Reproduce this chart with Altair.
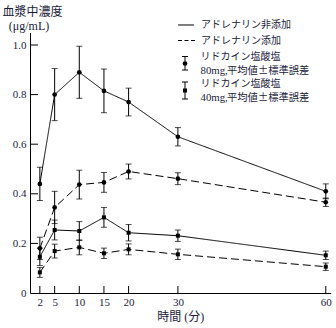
import altair as alt
import pandas as pd

# ---- data ----
times = [2, 5, 10, 15, 20, 30, 60]
m80_none = [0.44, 0.80, 0.89, 0.815, 0.77, 0.63, 0.41]
se80_none = [0.067, 0.105, 0.105, 0.088, 0.056, 0.037, 0.03]
m80_adr = [0.18, 0.345, 0.437, 0.446, 0.49, 0.461, 0.366]
se80_adr = [0.045, 0.065, 0.058, 0.04, 0.03, 0.024, 0.017]
m40_none = [0.146, 0.254, 0.25, 0.305, 0.243, 0.231, 0.152]
se40_none = [0.035, 0.04, 0.038, 0.04, 0.033, 0.023, 0.017]
m40_adr = [0.083, 0.169, 0.184, 0.16, 0.176, 0.156, 0.106]
se40_adr = [0.02, 0.028, 0.03, 0.021, 0.022, 0.021, 0.015]

x_ticks = [2, 5, 10, 15, 20, 30, 60]
y_ticks = [0, 0.2, 0.4, 0.6, 0.8, 1.0]

y_title = ["血漿中濃度", "(μg/mL)"]
x_title = "時間 (分)"
leg_line_labels = ["アドレナリン非添加", "アドレナリン添加"]
leg_drug = "リドカイン塩酸塩"
leg_doses = ["80mg,", "40mg,"]
leg_stat = "平均値±標準誤差"

rows = []
for dose, adr, ms, ses in [("80", "none", m80_none, se80_none),
                           ("80", "adr", m80_adr, se80_adr),
                           ("40", "none", m40_none, se40_none),
                           ("40", "adr", m40_adr, se40_adr)]:
    for t, m, s in zip(times, ms, ses):
        rows.append(dict(t=t, v=m, lo=m - s, hi=m + s, dose=dose, adr=adr,
                         series=dose + adr))
df = pd.DataFrame(rows)

FONT = "Liberation Serif, Noto Sans CJK JP"
CJK = "Noto Sans CJK JP"
TXT = "#1c1c3c"
W, H = 300.7, 260.4

xs = alt.Scale(domain=[0, 61], nice=False, zero=False)
ys = alt.Scale(domain=[0, 1.05], nice=False)

X = alt.X("t:Q", scale=xs, axis=alt.Axis(values=x_ticks, ticks=False, grid=False,
          labelFontSize=11, labelFont=FONT, labelColor=TXT, labelPadding=3,
          domainColor="black", title=x_title, titleFont=FONT, titleFontSize=12,
          titleFontWeight="normal", titleColor=TXT, titlePadding=4))
Y = alt.Y("v:Q", scale=ys, axis=alt.Axis(values=y_ticks, ticks=False, grid=False,
          labelFontSize=11, labelFont=FONT, labelColor=TXT, labelPadding=4,
          labelExpr="datum.value == 0 ? '0' : format(datum.value, '.1f')",
          domainColor="black", title=None))

dash = alt.StrokeDash("adr:N", scale=alt.Scale(domain=["none", "adr"],
                      range=[[1, 0], [8, 4]]), legend=None)

base = alt.Chart(df)
lines = base.mark_line(color="black", strokeWidth=1).encode(
    x=X, y=Y, detail="series:N", strokeDash=dash)
bars = base.mark_rule(color="black", strokeWidth=1).encode(
    x="t:Q", y=alt.Y("lo:Q", scale=ys), y2="hi:Q")
cap_lo = base.mark_tick(color="black", orient="horizontal", size=6, thickness=1).encode(
    x="t:Q", y=alt.Y("lo:Q", scale=ys))
cap_hi = base.mark_tick(color="black", orient="horizontal", size=6, thickness=1).encode(
    x="t:Q", y=alt.Y("hi:Q", scale=ys))
pts = base.mark_point(filled=True, color="black", opacity=1).encode(
    x="t:Q", y="v:Q",
    shape=alt.Shape("dose:N", scale=alt.Scale(domain=["80", "40"],
                    range=["circle", "square"]), legend=None),
    size=alt.Size("dose:N", scale=alt.Scale(domain=["80", "40"], range=[22, 16]),
                  legend=None))

# inward ticks
xt = alt.Chart(pd.DataFrame({"t": x_ticks})).mark_rule(color="black").encode(
    x=alt.X("t:Q", scale=xs), y=alt.value(H), y2=alt.value(H - 7))
yt = alt.Chart(pd.DataFrame({"v": y_ticks[1:]})).mark_rule(color="black").encode(
    y=alt.Y("v:Q", scale=ys), x=alt.value(0), x2=alt.value(8))

def txt(s, x, y, size=10, align="left", font=FONT):
    return alt.Chart(pd.DataFrame({"s": [s]})).mark_text(
        font=font, fontSize=size, color=TXT, align=align, baseline="middle").encode(
        text="s:N", x=alt.value(x), y=alt.value(y))

ox, oy = 30, 32.6
layers = [lines, bars, cap_lo, cap_hi, pts, xt, yt,
          txt(y_title[0], 32.5 - ox, 12 - oy, 12, "center"),
          txt(y_title[1], 29 - ox, 26 - oy, 12, "center"),
          txt(leg_line_labels[0], 201 - ox, 25 - oy),
          txt(leg_line_labels[1], 201 - ox, 40.5 - oy),
          txt(leg_drug, 200.5 - ox, 57 - oy, 10, font=CJK),
          txt(leg_doses[0], 200.5 - ox, 70.5 - oy, 10.8),
          txt(leg_stat, 227 - ox, 70.5 - oy, 10.3, font=CJK),
          txt(leg_drug, 200.5 - ox, 84 - oy, 10, font=CJK),
          txt(leg_doses[1], 200.5 - ox, 97.5 - oy, 10.8),
          txt(leg_stat, 227 - ox, 97.5 - oy, 10.3, font=CJK)]

# legend symbols
one = pd.DataFrame({"k": [0]})
def lrule(x1, x2, y1, y2, dashp=None):
    kw = dict(color="black", strokeWidth=1)
    if dashp:
        kw["strokeDash"] = dashp
    return alt.Chart(one).mark_rule(**kw).encode(
        x=alt.value(x1 - ox), x2=alt.value(x2 - ox), y=alt.value(y1 - oy), y2=alt.value(y2 - oy))

layers += [lrule(178, 194, 25, 25), lrule(178, 195, 40.5, 40.5, [4, 2.5]),
           lrule(185, 185, 56.5, 70), lrule(182, 188, 56.5, 56.5), lrule(182, 188, 70, 70),
           lrule(185, 185, 82, 99), lrule(182, 188, 82, 82), lrule(182, 188, 99, 99)]
layers.append(alt.Chart(one).mark_point(filled=True, color="black", opacity=1, shape="circle",
              size=22).encode(x=alt.value(185 - ox), y=alt.value(63.5 - oy)))
layers.append(alt.Chart(one).mark_point(filled=True, color="black", opacity=1, shape="square",
              size=16).encode(x=alt.value(185 - ox), y=alt.value(90.5 - oy)))

chart = alt.layer(*layers).properties(
    width=W, height=H, autosize=alt.AutoSizeParams(type="none"),
    padding={"left": ox, "top": oy, "right": 336 - ox - W, "bottom": 328 - oy - H},
    background="white"
).configure_view(stroke=None)

chart.save("out.html", embed_options={"renderer": "svg", "actions": False})
